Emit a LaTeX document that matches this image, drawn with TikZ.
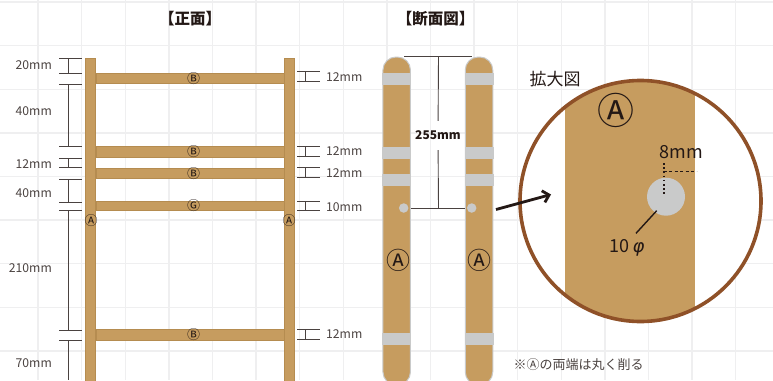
\documentclass[tikz,border=0pt]{standalone}
\usepackage{fontspec}
\usetikzlibrary{arrows.meta}
\setmainfont{Noto Sans CJK JP}
\newfontfamily\phifont{DejaVu Sans}
\definecolor{wood}{HTML}{C69C5F}
\definecolor{woodedge}{HTML}{B58C50}
\definecolor{bandgray}{HTML}{C9CACA}
\definecolor{ringbrown}{HTML}{8F5128}
\definecolor{gridgray}{HTML}{EFEFF0}
\definecolor{dimgray}{HTML}{4A4240}
\definecolor{inkblack}{HTML}{231815}
\tikzset{
  post/.style={draw=woodedge, fill=wood, line width=.7pt, minimum width=10.5pt, minimum height=330pt, inner sep=0pt},
  rung/.style={draw=woodedge, fill=wood, line width=.7pt, minimum width=188pt, inner sep=0pt},
  rungmark/.style={text=inkblack, inner sep=0pt, font=\fontsize{13}{13}\selectfont},
  sidepost/.style={draw=bandgray, fill=wood, line width=1pt, rounded corners=13pt, minimum width=27.5pt, minimum height=328pt, inner sep=0pt},
  band/.style={fill=bandgray, minimum width=29pt, minimum height=12pt, inner sep=0pt},
  hole/.style={circle, fill=bandgray, minimum size=9.5pt, inner sep=0pt},
  dimtext/.style={text=dimgray, inner sep=0pt, font=\fontsize{12.2}{14}\selectfont},
  letter/.style={text=inkblack, inner sep=0pt},
  dimline/.style={draw=dimgray, line width=.9pt}
}
\begin{document}
\begin{tikzpicture}[x=1pt,y=-1pt]
  \useasboundingbox (0,0) rectangle (773,380);
  \clip (0,0) rectangle (773,380);
  % grid paper
  \foreach \gx in {38,81.6,125.2,168.8,212.4,256,299.6,343.2,386.8,430.4,474,517.6,561.2,604.8,648.4,692,735.6}
    \draw[gridgray, line width=1.4pt] (\gx,0) -- (\gx,380);
  \foreach \gy in {2,45.6,89.2,132.8,176.4,220,263.6,307.2,350.8}
    \draw[gridgray, line width=1.4pt] (0,\gy) -- (773,\gy);

  \node[inkblack, font=\fontsize{15.5}{16}\selectfont\bfseries] (front) at (190,19) {【正面】};
  \node[inkblack, font=\fontsize{15.5}{16}\selectfont\bfseries] (section) at (435.5,19) {【断面図】};

  % front view
  \node[post, anchor=north] (postL) at (90.5,57.5) {};
  \node[post, anchor=north] (postR) at (289.5,57.5) {};
  \node[rung, minimum height=10.5pt] (rungA) at (190,78.2) {};
  \node[rung, minimum height=10.5pt] (rungB) at (190,151.7) {};
  \node[rung, minimum height=10.5pt] (rungC) at (190,173.5) {};
  \node[rung, minimum height=9pt] (rungD) at (190,205.7) {};
  \node[rung, minimum height=10.5pt] (rungE) at (190,334.8) {};
  \node[rungmark] (markA) at (193.5,78.2) {Ⓑ};
  \node[rungmark] (markB) at (193.5,151.7) {Ⓑ};
  \node[rungmark] (markC) at (193.5,173.5) {Ⓑ};
  \node[rungmark] (markD) at (193.5,205.7) {Ⓖ};
  \node[rungmark] (markE) at (193.5,334.8) {Ⓑ};
  \node[rungmark] (markL) at (91,221) {Ⓐ};
  \node[rungmark] (markR) at (289,221) {Ⓐ};

  % left dimensions
  \draw[dimline] (59,58.5) -- (82,58.5) (59,73.3) -- (82,73.3) (68,58.5) -- (68,73.3);
  \draw[dimline] (59,84.3) -- (82,84.3) (59,146.3) -- (82,146.3) (68,84.3) -- (68,146.3);
  \draw[dimline] (59,158) -- (82,158) (59,167.3) -- (82,167.3) (68,158) -- (68,167.3);
  \draw[dimline] (59,179) -- (82,179) (59,202.3) -- (82,202.3) (68,179) -- (68,202.3);
  \draw[dimline] (59,210.7) -- (82,210.7) (59,330) -- (82,330) (68,210.7) -- (68,330);
  \draw[dimline] (59,340.3) -- (82,340.3) (68,340.3) -- (68,380);
  \node[dimtext, anchor=east] (leftA) at (52,65.5) {20mm};
  \node[dimtext, anchor=east] (leftB) at (52,111) {40mm};
  \node[dimtext, anchor=east] (leftC) at (52,164) {12mm};
  \node[dimtext, anchor=east] (leftD) at (52,193) {40mm};
  \node[dimtext, anchor=east] (leftE) at (52,268) {210mm};
  \node[dimtext, anchor=east] (leftF) at (52,363) {70mm};

  % right dimensions
  \draw[dimline] (297,71.7) -- (320,71.7) (297,81) -- (320,81) (305,71.7) -- (305,81);
  \draw[dimline] (297,146.7) -- (320,146.7) (297,156) -- (320,156) (305,146.7) -- (305,156);
  \draw[dimline] (297,167.7) -- (320,167.7) (297,177.3) -- (320,177.3) (305,167.7) -- (305,177.3);
  \draw[dimline] (297,201) -- (320,201) (297,210) -- (320,210) (305,201) -- (305,210);
  \draw[dimline] (297,329.3) -- (320,329.3) (297,339) -- (320,339) (305,329.3) -- (305,339);
  \node[dimtext, anchor=west] (rightA) at (326,77) {12mm};
  \node[dimtext, anchor=west] (rightB) at (326,151) {12mm};
  \node[dimtext, anchor=west] (rightC) at (326,173) {12mm};
  \node[dimtext, anchor=west] (rightD) at (326,207) {10mm};
  \node[dimtext, anchor=west] (rightE) at (326,334) {12mm};

  % section view
  \node[sidepost, anchor=north] (sideL) at (396.7,56.5) {};
  \node[sidepost, anchor=north] (sideR) at (479,56.5) {};
  \node[band] (bandLa) at (396.7,79) {};
  \node[band] (bandLb) at (396.7,153) {};
  \node[band] (bandLc) at (396.7,180) {};
  \node[band] (bandLd) at (396.7,339) {};
  \node[band] (bandRa) at (479,79) {};
  \node[band] (bandRb) at (479,153) {};
  \node[band] (bandRc) at (479,180) {};
  \node[band] (bandRd) at (479,339) {};
  \node[hole] (holeL) at (403.7,208) {};
  \node[hole] (holeR) at (471.7,208) {};
  \node[letter, font=\fontsize{24}{24}\selectfont] (sideMarkL) at (398,260) {Ⓐ};
  \node[letter, font=\fontsize{24}{24}\selectfont] (sideMarkR) at (479,260) {Ⓐ};

  \coordinate (dimTopL) at (404,56.5);
  \coordinate (dimTopR) at (472,56.5);
  \coordinate (dimTopM) at (438.5,56.5);
  \coordinate (dimBotM) at (438.5,208);
  \node[inkblack, inner sep=0pt, minimum height=29pt, font=\fontsize{12}{14}\selectfont\bfseries] (dimDepth) at (438,135.5) {255mm};
  \draw[dimline] (dimTopL) -- (dimTopR);
  \draw[dimline] (dimTopM) -- (dimDepth);
  \draw[dimline] (dimDepth) -- (dimBotM);
  \draw[dimline] (sideL.east |- dimBotM) -- (sideR.west |- dimBotM);

  % magnified view
  \node[inkblack, font=\fontsize{17}{18}\selectfont] (zoomTitle) at (555,79) {拡大図};
  \node[circle, fill=white, minimum size=241pt, inner sep=0pt] (lens) at (640.5,201) {};
  \begin{scope}
    \clip (640.5,201) circle (120.5pt);
    \fill[wood] (565,70) rectangle (695,330);
  \end{scope}
  \node[circle, draw=ringbrown, line width=3.6pt, minimum size=241pt, inner sep=0pt] (ring) at (640.5,201) {};
  \node[letter, font=\fontsize{37}{37}\selectfont] (zoomMark) at (616,110.5) {Ⓐ};
  \node[circle, fill=bandgray, minimum size=38pt, inner sep=0pt] (bigHole) at (666,196.7) {};
  \coordinate (dotTop) at (663.7,163);
  \coordinate (dotBot) at (663.7,195);
  \coordinate (dashL) at (663.7,171.7);
  \coordinate (dashR) at (696.7,171.7);
  \draw[inkblack, line width=1.6pt, dash pattern=on 1.6pt off 2.6pt] (dotTop) -- (dotBot);
  \draw[inkblack, line width=1.4pt, dash pattern=on 3pt off 2.5pt] (dashL) -- (dashR);
  \node[inkblack, inner sep=0pt, font=\fontsize{18}{18}\selectfont] (gapText) at (681,152) {8mm};
  \node[inkblack, inner sep=0pt, font=\fontsize{18}{18}\selectfont] (diaText) at (627,248) {10\,{\phifont\itshape φ}};
  \coordinate (leaderEnd) at (636,233.3);
  \coordinate (leaderTop) at (656.7,210.7);
  \draw[inkblack, line width=1.4pt] (leaderTop) -- (leaderEnd);

  \coordinate (arrowTail) at (496,209.5);
  \coordinate (arrowHead) at (551,194.5);
  \draw[-{Straight Barb[length=6pt,width=12pt]}, inkblack, line width=2.8pt] (arrowTail) -- (arrowHead);

  \node[text=dimgray, inner sep=0pt, font=\fontsize{13}{14}\selectfont] (note) at (578.5,365) {※Ⓐの両端は丸く削る};
\end{tikzpicture}
\end{document}
